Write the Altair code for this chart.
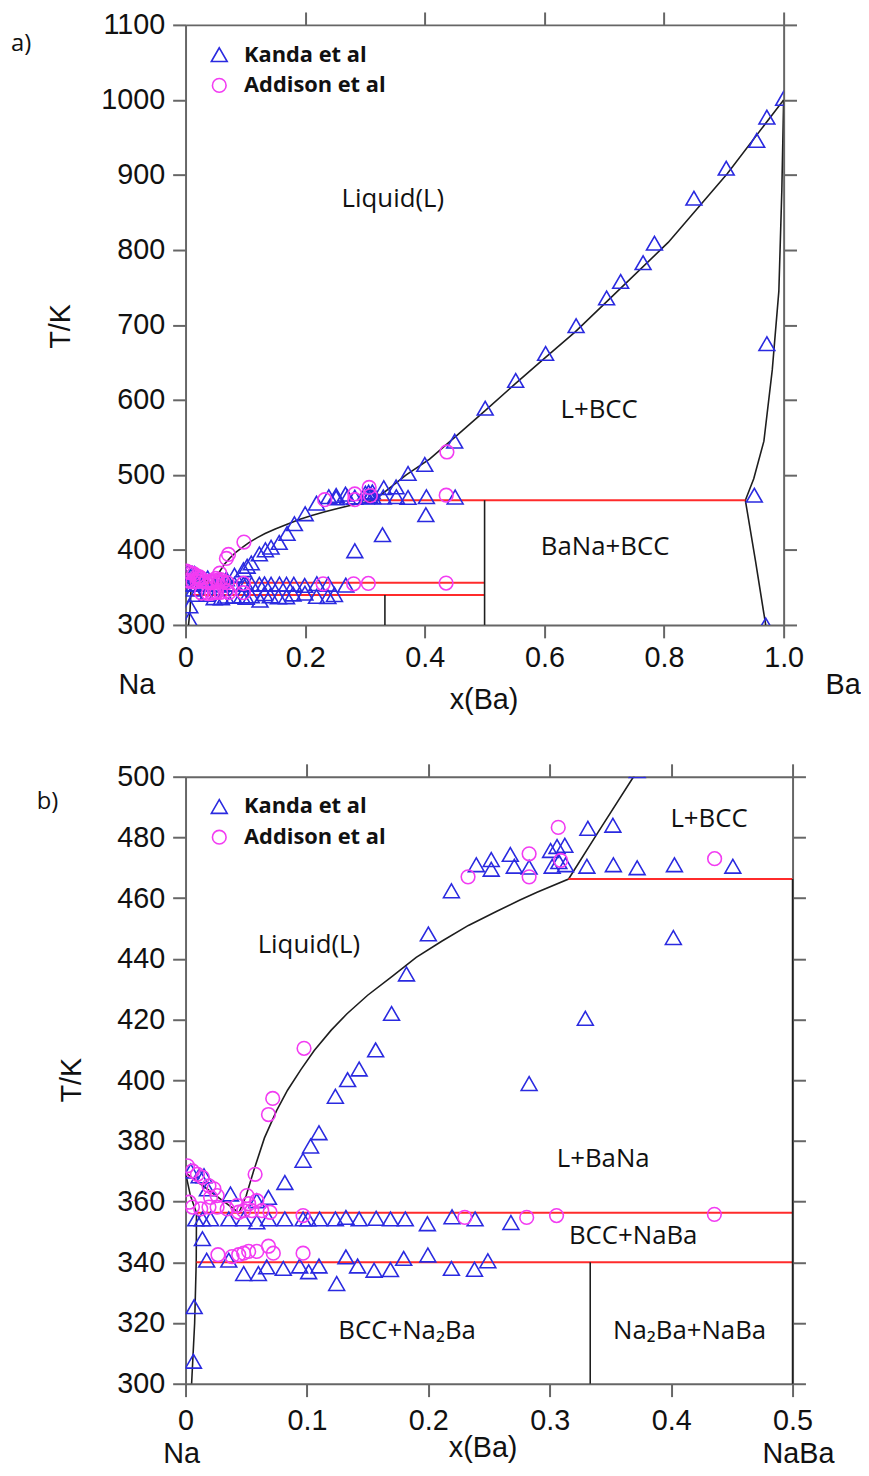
import altair as alt
import pandas as pd

# ---------------- data ----------------
kanda_x = [1.0, 0.972, 0.955, 0.904, 0.850, 0.784, 0.765, 0.7275, 0.704, 0.653, 0.602, 0.552, 0.501, 0.45, 0.400,
           0.972, 0.951, 0.97,
           0.372, 0.352, 0.3314, 0.2395, 0.2518, 0.2518, 0.2675, 0.2708, 0.283, 0.3007, 0.306, 0.3124, 0.302, 0.3075,
           0.313, 0.3306, 0.3524, 0.372, 0.4027, 0.4508,
           0.219, 0.2, 0.4018, 0.182, 0.1697, 0.3293, 0.283, 0.1566, 0.143, 0.1335, 0.1234, 0.1099, 0.103, 0.0968,
           0.0818, 0.0683,
           0.0043, 0.0112, 0.0152, 0.018, 0.037, 0.0587,
           0.0084, 0.0139, 0.0206, 0.0356, 0.0479, 0.0587, 0.0683, 0.0818, 0.0968, 0.1009, 0.1104, 0.1234, 0.1321,
           0.143, 0.157, 0.1688, 0.181, 0.1992, 0.2195, 0.2385, 0.268,
           0.0139,
           0.0174, 0.0356, 0.0479, 0.06, 0.0669, 0.0805, 0.094, 0.1014, 0.1099, 0.1245, 0.1321, 0.1417, 0.1553, 0.1688,
           0.1797, 0.1996, 0.219, 0.238, 0.249,
           0.0071, 0.0065]
kanda_T = [1002, 977, 946, 909, 869, 809, 783, 758, 736, 699, 662, 626, 589, 545, 514,
           675, 473, 300,
           502, 484, 483, 471, 472.7, 469.5, 474.4, 470.5, 470.2, 475.7, 477, 477.4, 470.5, 472,
           471, 470.5, 471, 470, 471, 470.5,
           462.4, 448.2, 447, 435, 422, 420.4, 398.9, 410, 403.7, 400.2, 394.7, 382.7, 378.3, 373.6,
           366.3, 361.4,
           370.1, 368.5, 368.5, 364.2, 362.5, 360.3,
           354.3, 354.3, 354.3, 354.3, 354.3, 353.3, 354.3, 354.3, 354.3, 354.3, 354.3, 354.3, 354.8,
           354.3, 354.5, 354.3, 354.3, 352.7, 355.0, 354.3, 353.1,
           347.8,
           340.7, 340.7, 336.3, 336.3, 338.5, 338.0, 338.8, 336.9, 338.8, 333.0, 341.8, 338.8, 337.4, 337.6,
           341.3, 342.4, 338.0, 337.7, 340.5,
           325.4, 307.4]

addison_x = [0.437, 0.4358, 0.307, 0.283, 0.283, 0.309, 0.2327,
             0.0976, 0.0718, 0.0683, 0.0573,
             0.23, 0.281, 0.3056, 0.4356, 0.0968, 0.0696, 0.0628, 0.0546, 0.0479, 0.0438, 0.0343, 0.026, 0.0193,
             0.0125, 0.0057, 0.003, 0.0424, 0.052, 0.0587, 0.0506,
             0.0016, 0.0057, 0.0098, 0.0139, 0.0193, 0.0234, 0.026, 0.0206,
             0.0267, 0.0383, 0.0438, 0.0479, 0.052, 0.0587, 0.0683, 0.0723, 0.0968]
addison_T = [530.6, 473, 483.3, 474.6, 467, 472.4, 467,
             410.5, 394, 388.7, 369,
             354.8, 354.8, 355.4, 355.8, 355.4, 356.5, 357, 357, 357, 356.5, 357.6, 358.2, 358.2,
             357.6, 358.2, 359.8, 358.7, 359.3, 360.3, 362,
             371.8, 370.1, 369, 368, 365.2, 364.2, 362, 361.4,
             342.5, 341.9, 342.5, 343, 343.6, 343.6, 345.3, 343, 343]

# calculated phase boundaries (black)
liq_x = [0.0, 0.01, 0.02, 0.03, 0.04, 0.044, 0.05, 0.056, 0.065, 0.075, 0.084, 0.095, 0.106, 0.12, 0.133, 0.15,
         0.171, 0.19, 0.211, 0.233, 0.256, 0.275, 0.29, 0.3155, 0.34, 0.369, 0.408, 0.45, 0.5, 0.552, 0.6, 0.652,
         0.729, 0.807, 0.906, 1.0]
liq_T = [369.5, 366.5, 363.5, 360.5, 357.5, 356.3, 362.0, 370.0, 381.0, 390.0, 396.7, 403.5, 409.8, 416.5, 421.9,
         428.0, 434.5, 440.5, 445.8, 451.0, 455.6, 459.3, 462.0, 466.3, 481.8, 500.0, 521.0, 550.0, 585.0, 622.0,
         655.5, 691.0, 750.0, 810.0, 902.0, 1000.0]
na_bcc_x = [0.0, 0.004, 0.009, 0.0088, 0.0075, 0.005]
na_bcc_T = [369.5, 362.0, 356.3, 340.0, 320.0, 300.0]
ba_bcc_x = [1.0, 0.997, 0.992, 0.981, 0.967, 0.95, 0.936, 0.953, 0.97]
ba_bcc_T = [1000, 880, 745, 640, 545, 495, 466.3, 385, 300]

# invariant reactions (red)
inv_T = [466.3, 356.3, 340.0]
inv_x1 = [0.3155, 0.009, 0.009]
inv_x2 = [0.936, 0.5, 0.5]

# compounds Na2Ba and NaBa (black verticals)
comp_x = [1 / 3, 0.5]
comp_T1 = [300, 300]
comp_T2 = [340.0, 466.3]

a_x_ticks = [0, 0.2, 0.4, 0.6, 0.8, 1.0]
a_T_ticks = [300, 400, 500, 600, 700, 800, 900, 1000, 1100]
b_x_ticks = [0, 0.1, 0.2, 0.3, 0.4, 0.5]
b_T_ticks = [300, 320, 340, 360, 380, 400, 420, 440, 460, 480, 500]

a_regions = ["Liquid(L)", "L+BCC", "BaNa+BCC"]
a_reg_x = [0.3466, 0.6915, 0.7015]
a_reg_T = [867.7, 586.9, 404.3]
b_regions = ["L+BCC", "Liquid(L)", "L+BaNa", "BCC+NaBa", "BCC+Na\u2082Ba", "Na\u2082Ba+NaBa"]
b_reg_x = [0.4312, 0.1016, 0.344, 0.3687, 0.1825, 0.4152]
b_reg_T = [486.1, 444.4, 374.0, 348.8, 317.2, 317.3]

sources = ["Kanda et al", "Addison et al"]

# ---------------- tables ----------------
pts = pd.DataFrame({
    "x": kanda_x + addison_x,
    "T": kanda_T + addison_T,
    "source": [sources[0]] * len(kanda_x) + [sources[1]] * len(addison_x),
})
curves = pd.concat([
    pd.DataFrame({"x": liq_x, "T": liq_T, "curve": "liquidus", "o": range(len(liq_x))}),
    pd.DataFrame({"x": na_bcc_x, "T": na_bcc_T, "curve": "na_bcc", "o": range(len(na_bcc_x))}),
    pd.DataFrame({"x": ba_bcc_x, "T": ba_bcc_T, "curve": "ba_bcc", "o": range(len(ba_bcc_x))}),
], ignore_index=True)
inv = pd.DataFrame({"T": inv_T, "x1": inv_x1, "x2": inv_x2})
comp = pd.DataFrame({"x": comp_x, "T1": comp_T1, "T2": comp_T2})

BLUE = "#2a2ae0"
MAGENTA = "#f23cf2"
RED = "#ff2b2b"
LINE = "#1e1e1e"
AX = "#666666"
TXT = "#111111"
NUMFONT = "Liberation Sans"
REGFONT = "Open Sans, Noto Sans"
NUMSIZE = 29


def ptext(txt, px, py, size, font, angle=0, align="center"):
    return alt.Chart(pd.DataFrame({"t": [txt]})).mark_text(
        align=align, baseline="middle", font=font, fontSize=size, angle=angle, color=TXT
    ).encode(x=alt.value(px), y=alt.value(py), text="t:N")


def panel(xdom, Tdom, w, h, xt, Tt, xtop, reg, reg_x, reg_T, annots, lab_pad):
    xs = alt.Scale(domain=xdom, nice=False, zero=False)
    ys = alt.Scale(domain=Tdom, nice=False, zero=False)
    lab = "datum.value == 0 ? '0' : format(datum.value, '.1f')"
    ax_b = alt.Axis(orient="bottom", values=xt, labelExpr=lab, title=None, labelPadding=lab_pad,
                    labelFlush=False)
    ax_l = alt.Axis(orient="left", values=Tt, format="d", title=None, labelPadding=8, labelFlush=False)
    ax_t = alt.Axis(orient="top", values=xtop, labels=False, title=None)
    ax_r = alt.Axis(orient="right", values=Tt, labels=False, title=None)

    black = alt.Chart(curves).mark_line(color=LINE, strokeWidth=1.6, clip=True).encode(
        x=alt.X("x:Q", scale=xs, axis=ax_b),
        y=alt.Y("T:Q", scale=ys, axis=ax_l),
        detail="curve:N", order="o:Q")
    red = alt.Chart(inv).mark_rule(color=RED, strokeWidth=2, clip=True).encode(
        x=alt.X("x1:Q", scale=xs, axis=ax_t), x2="x2:Q",
        y=alt.Y("T:Q", scale=ys, axis=ax_r))
    vert = alt.Chart(comp).mark_rule(color=LINE, strokeWidth=1.6).encode(
        x=alt.X("x:Q", scale=xs, axis=None),
        y=alt.Y("T1:Q", scale=ys, axis=None), y2="T2:Q")
    leg = alt.Legend(orient="none", legendX=23, legendY=19, title=None, labelFont="Open Sans",
                     labelFontWeight="bold", labelFontSize=22, labelColor=TXT, symbolStrokeWidth=1.6,
                     rowPadding=9, labelOffset=14, padding=0)
    points = alt.Chart(pts).mark_point(filled=False, strokeWidth=1.6, opacity=1, clip=True).encode(
        x=alt.X("x:Q", scale=xs, axis=None),
        y=alt.Y("T:Q", scale=ys, axis=None),
        color=alt.Color("source:N", scale=alt.Scale(domain=sources, range=[BLUE, MAGENTA]), legend=leg),
        shape=alt.Shape("source:N", scale=alt.Scale(domain=sources, range=["triangle-up", "circle"]), legend=leg),
        size=alt.Size("source:N", scale=alt.Scale(domain=sources, range=[256, 190]), legend=leg))
    regdf = pd.DataFrame({"label": reg, "x": reg_x, "T": reg_T})
    regions = alt.Chart(regdf).mark_text(font=REGFONT, fontSize=26, color=TXT).encode(
        x=alt.X("x:Q", scale=xs, axis=None), y=alt.Y("T:Q", scale=ys, axis=None), text="label:N")
    return alt.layer(black, red, vert, points, regions, *annots).resolve_axis(
        x="independent", y="independent").properties(width=w, height=h)


annots_a = [
    ptext("a)", -176, 19, 24, "Open Sans", align="left"),
    ptext("T/K", -125, 304, NUMSIZE, NUMFONT, angle=270),
    ptext("Na", -49, 666, NUMSIZE, NUMFONT),
    ptext("Ba", 663, 666, NUMSIZE, NUMFONT),
    ptext("x(Ba)", 301, 681, NUMSIZE, NUMFONT),
]
annots_b = [
    ptext("b)", -150, 26, 24, "Open Sans", align="left"),
    ptext("T/K", -114, 306, NUMSIZE, NUMFONT, angle=270),
    ptext("Na", -4, 683, NUMSIZE, NUMFONT),
    ptext("NaBa", 618, 683, NUMSIZE, NUMFONT),
    ptext("x(Ba)", 300, 677, NUMSIZE, NUMFONT),
]

pa = panel([0, 1], [300, 1100], 603, 605, a_x_ticks, a_T_ticks, a_x_ticks[1:],
           a_regions, a_reg_x, a_reg_T, annots_a, 6)
pb = panel([0, 0.5], [300, 500], 612, 612, b_x_ticks, b_T_ticks, b_x_ticks[1:],
           b_regions, b_reg_x, b_reg_T, annots_b, 10)

chart = alt.vconcat(pa, pb, spacing=48).resolve_scale(
    x="independent", y="independent", color="independent", shape="independent", size="independent"
).configure_axis(
    domainColor=AX, domainWidth=2, tickColor=AX, tickWidth=2, tickSize=13,
    labelFont=NUMFONT, labelFontSize=NUMSIZE, labelColor=TXT, grid=False
).configure_view(stroke=None).properties(
    padding={"left": 3, "top": -3, "right": 0, "bottom": 0}
)

chart.save("out.html", embed_options={"renderer": "svg", "actions": False})
